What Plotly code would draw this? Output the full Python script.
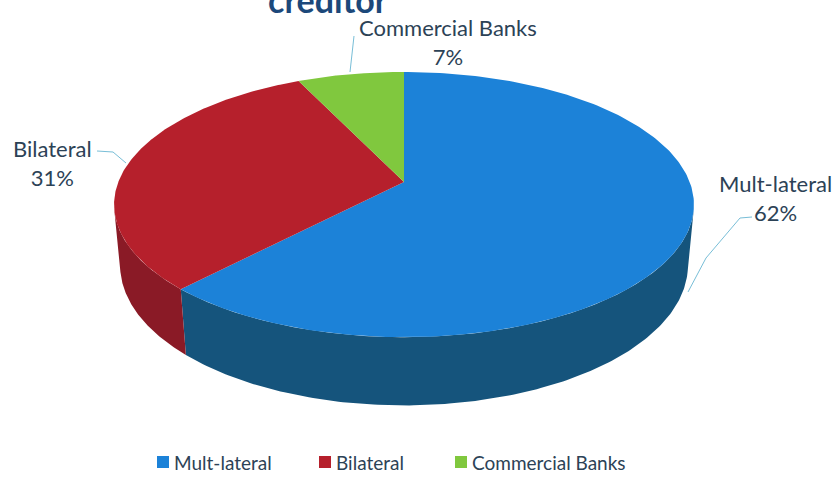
import numpy as np
import plotly.graph_objects as go

# Share of external debt by creditor
categories = ["Mult-lateral", "Bilateral", "Commercial Banks"]
shares = [62, 31, 7]

top_colors = ["rgb(28,130,216)", "rgb(182,32,44)", "rgb(128,200,62)"]
side_colors = ["rgb(21,84,124)", "rgb(138,26,38)", "rgb(90,150,40)"]
label_color = "rgb(44,66,86)"
leader_color = "rgb(120,190,215)"
font_family = "Lato, 'Open Sans', sans-serif"

# perspective camera for the tilted 3-D pie
tilt = np.radians(26.8)      # elevation of the view
dist = 5.25                  # camera distance (in pie radii)
thick = 0.24                 # pie thickness (in pie radii)
scale = 1500.0               # pixels per projected unit
vx, vy = 404, 182            # screen position of the pie centre


def project(theta_deg, y=0.0):
    """Point on the pie rim at angle theta (clockwise from the back), height y."""
    t = np.radians(theta_deg)
    X, Z = np.sin(t), np.cos(t)
    yv = y * np.cos(tilt) + Z * np.sin(tilt)
    zv = -y * np.sin(tilt) + Z * np.cos(tilt) + dist
    return vx + scale * X / zv, vy - scale * yv / zv


# rim angles where the side wall turns away from the viewer
sil = np.degrees(np.arccos(-1.0 / (dist * np.cos(tilt))))
front_lo, front_hi = sil, 360.0 - sil

# slice angle ranges, clockwise from 12 o'clock
total = float(sum(shares))
edges = np.concatenate([[0.0], np.cumsum(shares) / total * 360.0])

fig = go.Figure()

# visible side walls
for i in range(len(shares)):
    a0, a1 = max(edges[i], front_lo), min(edges[i + 1], front_hi)
    if a1 <= a0:
        continue
    th = np.linspace(a0, a1, 160)
    xs_top, ys_top = project(th)
    xs_bot, ys_bot = project(th[::-1], -thick)
    fig.add_trace(go.Scatter(
        x=np.concatenate([xs_top, xs_bot]), y=np.concatenate([ys_top, ys_bot]),
        mode="lines", fill="toself", fillcolor=side_colors[i],
        line=dict(width=0), hoverinfo="skip", showlegend=False))

# top faces
for i in range(len(shares)):
    th = np.linspace(edges[i], edges[i + 1], 240)
    xs, ys = project(th)
    fig.add_trace(go.Scatter(
        x=np.concatenate([[vx], xs, [vx]]), y=np.concatenate([[vy], ys, [vy]]),
        mode="lines", fill="toself", fillcolor=top_colors[i],
        line=dict(width=0), hoverinfo="skip", showlegend=False))

# data labels with leader lines
label_pos = {
    "Mult-lateral": (775, 198),
    "Bilateral": (52, 163),
    "Commercial Banks": (448, 42),
}
leaders = {
    "Mult-lateral": ([752, 740, 706, 688], [217, 218, 258, 292]),
    "Bilateral": ([97, 113, 126], [151, 152, 163]),
    "Commercial Banks": ([354, 352, 350], [36, 55, 72]),
}
for name, val in zip(categories, shares):
    lx, ly = leaders[name]
    fig.add_trace(go.Scatter(x=lx, y=ly, mode="lines",
                             line=dict(color=leader_color, width=1),
                             hoverinfo="skip", showlegend=False))
    x, y = label_pos[name]
    fig.add_annotation(x=x, y=y, text=f"{name}<br>{val}%", showarrow=False,
                       font=dict(size=22, color=label_color, family=font_family),
                       align="center", xanchor="center", yanchor="middle")

# legend drawn as swatches + text along the bottom
legend_x = [163, 325, 461]
legend_y = 462
for name, col, lx in zip(categories, top_colors, legend_x):
    fig.add_trace(go.Scatter(x=[lx], y=[legend_y], mode="markers",
                             marker=dict(symbol="square", size=12, color=col),
                             hoverinfo="skip", showlegend=False))
    fig.add_annotation(x=lx + 9, y=legend_y, text=name, showarrow=False,
                       font=dict(size=19, color=label_color, family=font_family),
                       xanchor="left", yanchor="middle")

# title (partly above the visible area)
fig.add_annotation(xref="x", yref="paper", x=328, y=1.0, text="<b>creditor</b>",
                   showarrow=False,
                   font=dict(size=34, color="rgb(28,72,122)", family=font_family),
                   xanchor="center", yanchor="top", yshift=23)

fig.update_layout(
    width=835, height=486,
    margin=dict(l=0, r=0, t=0, b=0),
    paper_bgcolor="white", plot_bgcolor="white",
    xaxis=dict(range=[0, 835], visible=False, fixedrange=True),
    yaxis=dict(range=[486, 0], visible=False, fixedrange=True),
    showlegend=False,
)

fig.write_html("out.html")
